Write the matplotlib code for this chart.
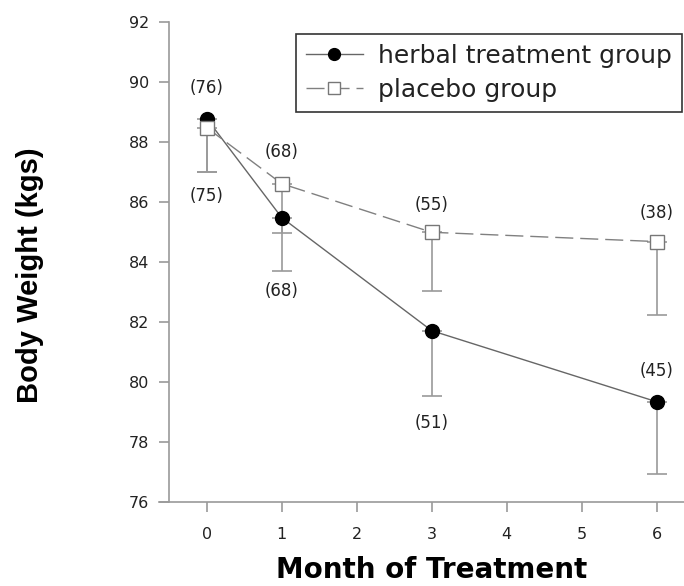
import numpy as np
import matplotlib
matplotlib.use("Agg")
import matplotlib.pyplot as plt

# Body weight (kg) per month of treatment
months = [0, 1, 3, 6]
herbal = [88.77, 85.47, 81.70, 79.33]
herbal_err = [1.78, 1.78, 2.19, 2.40]
placebo = [88.47, 86.60, 84.98, 84.67]
placebo_err = [1.48, 1.66, 1.96, 2.45]
herbal_n = ["(75)", "(68)", "(51)", "(45)"]
placebo_n = ["(76)", "(68)", "(55)", "(38)"]

# label offsets in pixels from each marker
herbal_off = [-77, -73, -92, 31]
placebo_off = [40, 32, 27, 29]

fig = plt.figure(figsize=(6.84, 5.86), dpi=100)
ax = fig.add_axes([0.2320, 0.1439, 0.7829, 0.8191])

grey = "#9a9a9a"
ax.errorbar(months, herbal, yerr=[herbal_err, np.zeros(4)], fmt="none",
            ecolor=grey, elinewidth=1.2, capsize=7, capthick=1.2, zorder=1)
ax.errorbar(months, placebo, yerr=[placebo_err, np.zeros(4)], fmt="none",
            ecolor=grey, elinewidth=1.2, capsize=7, capthick=1.2, zorder=1)

ax.plot(months, herbal, color="#666666", lw=1.0, marker="o", ms=10,
        mfc="black", mec="black", label="herbal treatment group", zorder=3)
ax.plot(months, placebo, color="#808080", lw=1.0, dashes=(13, 5), marker="s", ms=9.5,
        mfc="white", mec="#777777", mew=1.0, label="placebo group", zorder=4)

for x, y, t, o in zip(months, herbal, herbal_n, herbal_off):
    ax.annotate(t, (x, y), xytext=(0, o), textcoords="offset pixels",
                ha="center", va="center", fontsize=12, color="#222222")
for x, y, t, o in zip(months, placebo, placebo_n, placebo_off):
    ax.annotate(t, (x, y), xytext=(0, o), textcoords="offset pixels",
                ha="center", va="center", fontsize=12, color="#222222")

ax.set_xlim(-0.64, 6.5)
ax.set_ylim(76, 92)
ax.set_xticks(range(7))
ax.set_yticks(range(76, 93, 2))

for s in ["top", "right"]:
    ax.spines[s].set_visible(False)
ax.spines["left"].set_position(("data", -0.5))
for s in ["left", "bottom"]:
    ax.spines[s].set_color(grey)
    ax.spines[s].set_linewidth(1.2)
ax.tick_params(axis="both", direction="out", color=grey, width=1.2,
               labelsize=11.5, labelcolor="#222222")
ax.tick_params(axis="x", length=7, pad=11)
ax.tick_params(axis="y", length=7.5, pad=7)

ax.set_xlabel("Month of Treatment", fontsize=20, fontweight="bold")
ax.xaxis.set_label_coords(0.5104, -0.113)
ax.set_ylabel("Body Weight (kgs)", fontsize=21, fontweight="bold",
              family="Liberation Sans")
ax.yaxis.set_label_coords(-0.214, 0.471)

leg = ax.legend(loc="upper right", bbox_to_anchor=(682 / 684, 1 - 34 / 586),
                bbox_transform=fig.transFigure, fontsize=18, frameon=True,
                fancybox=False, borderaxespad=0, borderpad=0.4,
                handlelength=2.3, handletextpad=0.6, labelspacing=0.38,
                markerscale=0.85)
leg.get_frame().set_edgecolor("black")
leg.get_frame().set_linewidth(1.2)
for txt in leg.get_texts():
    txt.set_color("#222222")

fig.savefig("out.png", dpi=100)
